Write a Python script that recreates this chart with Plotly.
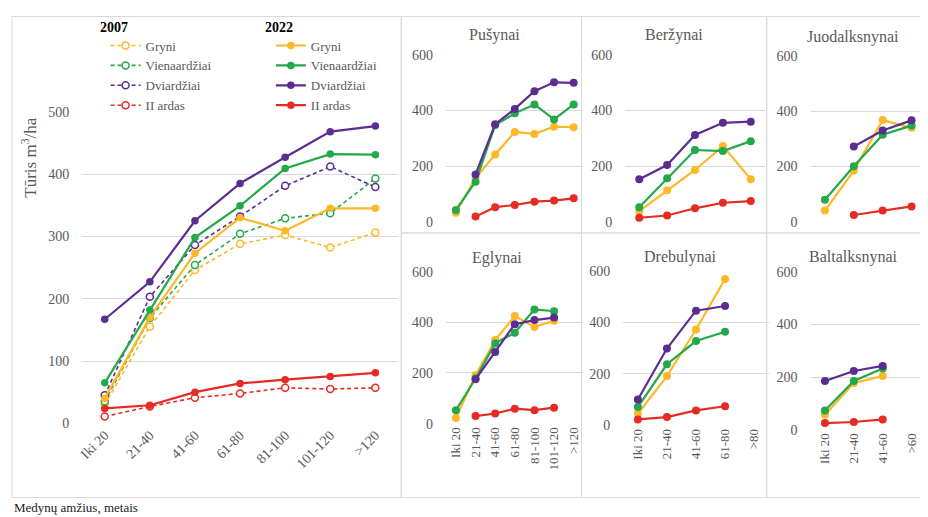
import plotly.graph_objects as go

# figure size and screen-mapping calibration (measured from earlier renders)
W, H = 918, 517
OX = 10.0           # horizontal page offset
OY, SY = 15.5, 0.969  # vertical page offset / scale
FONT = "Liberation Serif"
GRAY = "#595959"
GRID = "#d9d9d9"
BORDER = "#d9d9d9"

# ---------------- data ----------------
series_names = ["Gryni", "Vienaardžiai", "Dviardžiai", "II ardas"]
series_colors = ["#FDB827", "#23A84B", "#5B2D91", "#E52B22"]

main_cats = ["Iki 20", "21-40", "41-60", "61-80", "81-100", "101-120", ">120"]
# 2007 (dashed, open markers)
gryni_2007 = [30, 155, 246, 288, 302, 282, 306]
vien_2007 = [35, 169, 254, 304, 329, 337, 393]
dviar_2007 = [45, 203, 286, 332, 381, 412, 379]
ardas_2007 = [11, 27, 41, 48, 57, 55, 57]
# 2022 (solid, filled markers)
gryni_2022 = [40, 170, 273, 330, 309, 345, 345]
vien_2022 = [65, 182, 298, 349, 409, 432, 431]
dviar_2022 = [167, 227, 325, 385, 427, 468, 477]
ardas_2022 = [24, 29, 50, 64, 70, 75, 81]

cats7 = ["Iki 20", "21-40", "41-60", "61-80", "81-100", "101-120", ">120"]
cats5 = ["Iki 20", "21-40", "41-60", "61-80", ">80"]
cats4 = ["Iki 20", "21-40", "41-60", ">60"]

pus_gryni = [32, 157, 242, 323, 316, 342, 340]
pus_vien = [42, 144, 348, 390, 422, 368, 422]
pus_dviar = [None, 170, 351, 406, 470, 502, 500]
pus_ardas = [None, 18, 52, 60, 72, 76, 84]

ber_gryni = [38, 113, 186, 272, 153]
ber_vien = [52, 156, 258, 254, 290]
ber_dviar = [153, 204, 312, 356, 360]
ber_ardas = [14, 22, 48, 68, 74]

juo_gryni = [40, 185, 368, 340]
juo_vien = [79, 201, 315, 348]
juo_dviar = [None, 272, 330, 367]
juo_ardas = [None, 24, 40, 55]

egl_gryni = [22, 191, 330, 425, 382, 406, None]
egl_vien = [53, 178, 317, 359, 451, 444, None]
egl_dviar = [None, 175, 283, 393, 409, 419, None]
egl_ardas = [None, 30, 40, 59, 53, 63, None]

dre_gryni = [45, 191, 372, 568, None]
dre_vien = [71, 237, 327, 363, None]
dre_dviar = [100, 298, 445, 463, None]
dre_ardas = [23, 32, 58, 74, None]

bal_gryni = [57, 177, 204, None]
bal_vien = [73, 185, 232, None]
bal_dviar = [185, 223, 242, None]
bal_ardas = [25, 29, 39, None]

main_ticks = [0, 100, 200, 300, 400, 500]
panel_ticks = [0, 200, 400, 600]


def fx(x):
    return min(max((x - OX) / W, 0.0), 1.0)


def fy(y):
    return min(max(1 - ((y - OY) / SY) / H, 0.0), 1.0)


fig = go.Figure()

# ---------------- main chart ----------------
for name, col, vals in zip(series_names, series_colors,
                           [gryni_2007, vien_2007, dviar_2007, ardas_2007]):
    fig.add_trace(go.Scatter(
        x=main_cats, y=vals, name=name, mode="lines+markers",
        line=dict(color=col, width=1.6, dash="4px,3px"),
        marker=dict(symbol="circle", size=7, color="white",
                    line=dict(color=col, width=1.5)),
        legend="legend", xaxis="x", yaxis="y", cliponaxis=False))

for name, col, vals in zip(series_names, series_colors,
                           [gryni_2022, vien_2022, dviar_2022, ardas_2022]):
    fig.add_trace(go.Scatter(
        x=main_cats, y=vals, name=name, mode="lines+markers",
        line=dict(color=col, width=2.2),
        marker=dict(symbol="circle", size=7.5, color=col),
        legend="legend2", xaxis="x", yaxis="y", cliponaxis=False))

# ---------------- panels ----------------
panels = [
    ("Pušynai", cats7, [pus_gryni, pus_vien, pus_dviar, pus_ardas], 2,
     (446, 584), (55.5, 221.7), False, (495, 35)),
    ("Beržynai", cats5, [ber_gryni, ber_vien, ber_dviar, ber_ardas], 3,
     (626, 766), (55.5, 221.7), False, (675, 35)),
    ("Juodalksnynai", cats4, [juo_gryni, juo_vien, juo_dviar, juo_ardas], 4,
     (812, 928), (56.5, 221.7), False, (855, 37)),
    ("Eglynai", cats7, [egl_gryni, egl_vien, egl_dviar, egl_ardas], 5,
     (446, 584), (271.7, 423.3), True, (497, 258)),
    ("Drebulynai", cats5, [dre_gryni, dre_vien, dre_dviar, dre_ardas], 6,
     (624, 770), (270.7, 425.0), True, (681, 257)),
    ("Baltalksnynai", cats4, [bal_gryni, bal_vien, bal_dviar, bal_ardas], 7,
     (812, 928), (271.7, 429.3), True, (855, 257)),
]

annotations = []
axes = {}
for title, cats, data, idx, (x0, x1), (ytop, ybot), show_x, (tx, ty) in panels:
    for name, col, vals in zip(series_names, series_colors, data):
        fig.add_trace(go.Scatter(
            x=cats, y=vals, name=name, mode="lines+markers",
            line=dict(color=col, width=2.2),
            marker=dict(symbol="circle", size=8, color=col),
            showlegend=False, xaxis=f"x{idx}", yaxis=f"y{idx}",
            cliponaxis=False))
    axes[f"xaxis{idx}"] = dict(
        type="category", domain=[fx(x0), fx(x1)],
        range=[-0.5, len(cats) - 0.5], anchor=f"y{idx}",
        showgrid=False, zeroline=False, showline=False, ticks="",
        showticklabels=show_x, tickangle=-90,
        categoryorder="array", categoryarray=cats,
        tickfont=dict(family=FONT, size=13, color=GRAY))
    axes[f"yaxis{idx}"] = dict(
        domain=[fy(ybot), fy(ytop)], range=[0, 600], anchor=f"x{idx}",
        tickvals=panel_ticks, showgrid=True, gridcolor=GRID, gridwidth=1,
        zeroline=False, showline=False, ticks="", ticklabelstandoff=12,
        tickfont=dict(family=FONT, size=14, color=GRAY))
    annotations.append(dict(
        text=title, x=fx(tx), y=fy(ty), xref="paper", yref="paper",
        showarrow=False, xanchor="center", yanchor="middle",
        font=dict(family=FONT, size=16, color=GRAY)))

# legend headers, axis titles
annotations += [
    dict(text="<b>2007</b>", x=fx(112), y=fy(28), xref="paper", yref="paper",
         showarrow=False, xanchor="center", yanchor="middle",
         font=dict(family=FONT, size=14, color="black")),
    dict(text="<b>2022</b>", x=fx(278), y=fy(28), xref="paper", yref="paper",
         showarrow=False, xanchor="center", yanchor="middle",
         font=dict(family=FONT, size=14, color="black")),
    dict(text="Tūris m<sup>3</sup>/ha", x=fx(27), y=fy(157), xref="paper",
         yref="paper", showarrow=False, textangle=-90, xanchor="center",
         yanchor="middle", font=dict(family=FONT, size=17, color=GRAY)),
    dict(text="Medynų amžius, metais", x=fx(10), y=fy(507), xref="paper",
         yref="paper", showarrow=False, xanchor="left", yanchor="middle",
         font=dict(family=FONT, size=13, color="#222222")),
]

# chart-area borders
boxes = [(10, 17, 401, 497), (401, 17, 582, 233), (582, 17, 768, 233),
         (768, 17, 927, 233), (401, 233, 582, 497), (582, 233, 768, 497),
         (768, 233, 927, 497)]
shapes = [dict(type="rect", xref="paper", yref="paper",
               x0=fx(a), x1=fx(c), y0=fy(d), y1=fy(b),
               line=dict(color=BORDER, width=1), layer="below")
          for a, b, c, d in boxes]

fig.update_layout(
    width=W, height=H, margin=dict(l=0, r=0, t=0, b=0),
    paper_bgcolor="white", plot_bgcolor="white",
    font=dict(family=FONT, color=GRAY),
    xaxis=dict(type="category", domain=[fx(80.5), fx(397.6)],
               range=[-0.5, 6.5], anchor="y", showgrid=False,
               zeroline=False, showline=False, ticks="", tickangle=-45,
               tickfont=dict(family=FONT, size=14, color=GRAY)),
    yaxis=dict(domain=[fy(423), fy(112)], range=[0, 500], anchor="x",
               tickvals=main_ticks, showgrid=True, gridcolor=GRID,
               gridwidth=1, zeroline=False, showline=False, ticks="",
               ticklabelstandoff=12,
               tickfont=dict(family=FONT, size=14, color=GRAY)),
    legend=dict(x=fx(104), y=fy(31), xanchor="left", yanchor="top",
                bgcolor="rgba(0,0,0,0)", borderwidth=0,
                font=dict(family=FONT, size=13, color=GRAY),
                tracegroupgap=0, itemclick=False),
    legend2=dict(x=fx(270), y=fy(31), xanchor="left", yanchor="top",
                 bgcolor="rgba(0,0,0,0)", borderwidth=0,
                 font=dict(family=FONT, size=13, color=GRAY),
                 tracegroupgap=0, itemclick=False),
    annotations=annotations,
    shapes=shapes,
    **axes,
)

fig.write_html("out.html")
